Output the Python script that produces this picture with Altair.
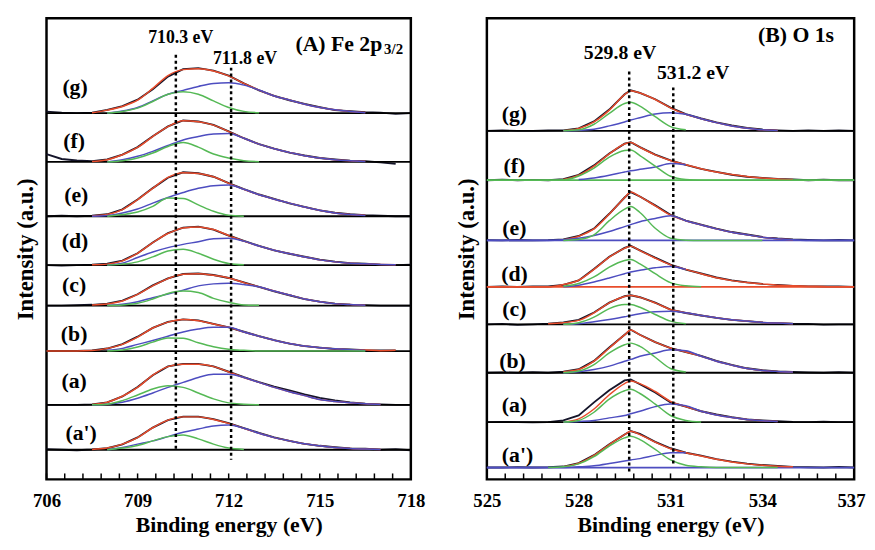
import altair as alt
import pandas as pd

N = None
FONT = "'Liberation Serif', 'Times New Roman', 'DejaVu Serif', serif"
C_DATA = "#15152a"
C_FIT = "#e84c2b"
C_GREEN = "#55b955"
C_BLUE = "#4d4dc0"

SPECTRA = ["(g)", "(f)", "(e)", "(d)", "(c)", "(b)", "(a)", "(a')"]

# ---------------- Panel A : Fe 2p3/2 ----------------
A_E = [706, 706.5, 707, 707.5, 708, 708.5, 709, 709.5, 710, 710.5, 711, 711.5, 712,
       712.5, 713, 713.5, 714, 714.5, 715, 715.5, 716, 716.5, 717, 717.5, 718]
A_OFFSET = [371, 321.5, 266.5, 217, 176, 130, 75.5, 30]

A_FIT = [
    [N, N, N, 0.3, 3, 6.7, 13, 25, 38, 44, 45, 42.7, 37.7, 30, 23.3, 17.3, 13.3, 9, 5.7, 3.3, 1.7, 0.5, N, N, N],
    [N, N, N, 0.5, 2.3, 7.3, 14.7, 25.7, 35.7, 41.7, 40.7, 37.3, 30.7, 24, 18, 13.3, 9.7, 6.3, 4, 2.3, 1.3, 0.7, N, N, N],
    [N, N, N, 0.3, 1.7, 6.7, 16.7, 28.3, 39.3, 44, 43.3, 40, 33.3, 27.3, 21.7, 17.3, 13.3, 9.3, 6, 3.3, 1.7, 1, N, N, N],
    [N, N, N, 0.3, 1, 4.3, 12, 22.7, 32, 37.7, 38.7, 36, 30, 24.3, 19.3, 15, 11.7, 8.3, 5.3, 3.3, 2, 1.3, 0.7, 0.3, N],
    [N, N, N, 0.7, 1.7, 4.7, 11.3, 20, 27.3, 31.7, 32.3, 30.7, 28, 23.3, 19, 14.7, 10.7, 6.7, 4, 2, 1, 0.3, N, N, N],
    [0, 0, 0, 0.5, 2.7, 6.7, 14, 23.3, 29.3, 32, 30.7, 27.3, 24, 19.3, 15, 11, 7.7, 5, 3.3, 2.3, 1.3, 1, 0.3, 0.7, N],
    [N, N, N, 0.3, 2.7, 8.7, 17.7, 30, 38.7, 41, 41, 38.7, 33.3, 27.7, 22.7, 17.7, 13.3, 9.3, 5.3, 3.3, 2, 1, 0.3, N, N],
    [N, N, N, 0.3, 1.7, 5.7, 12.3, 22.3, 30, 33.3, 33.3, 30.7, 26.7, 21.7, 16.7, 12.3, 9, 6, 4, 2.3, 1.3, 0.7, 0.3, N, N],
]
A_GREEN = [
    [N, N, N, N, 0, 1.5, 5, 11.7, 19, 21.5, 19, 12.3, 5.7, 1.7, 0.3, N, N, N, N, N, N, N, N, N, N],
    [N, N, N, N, 0, 1.3, 4, 9, 15.7, 19.7, 15, 8, 4, 1.3, 0.3, N, N, N, N, N, N, N, N, N, N],
    [N, N, N, N, 0, 1.7, 4.3, 10, 18.5, 18, 11.5, 5, 1, 0, N, N, N, N, N, N, N, N, N, N, N],
    [N, N, N, N, 0, 1, 3.3, 8.3, 14.3, 16, 12, 6, 1.7, 0.3, N, N, N, N, N, N, N, N, N, N, N],
    [N, N, N, N, 0, 0.7, 2.3, 6.7, 12.3, 14.7, 13.3, 7.3, 3.3, 0.7, 0.3, N, N, N, N, N, N, N, N, N, N],
    [N, N, N, N, 0, 1, 4, 9, 13.3, 13, 8.3, 4.3, 1.7, 0.7, 0, 0, 0, 0, 0, 0, 0, 0, N, N, N],
    [N, N, N, 0, 0.7, 4.3, 10, 16, 19.3, 17.7, 12, 6, 2, 0.7, 0, N, N, N, N, N, N, N, N, N, N],
    [N, N, N, N, 0, 1.7, 4.3, 9, 13.3, 15, 11, 5.7, 1.7, 0.3, N, N, N, N, N, N, N, N, N, N, N],
]
A_BLUE = [
    [N, N, N, N, 0, 2, 5.7, 12.3, 19, 23, 27, 30, 30.7, 28.3, 23.3, 17.3, 13.3, 9, 5.7, 3.3, 1.7, 0.3, N, N, N],
    [N, N, N, N, 0, 2.3, 5.7, 10.7, 16.7, 22.3, 25.7, 28.3, 28.7, 24, 18, 13.3, 9.7, 6.3, 4, 2.3, 1.3, 0.5, N, N, N],
    [N, N, N, 0, 0.7, 3.3, 7.3, 13.3, 19, 24, 28.3, 31, 31.7, 27.3, 21.7, 17.3, 13.3, 9.3, 6, 3.3, 1.7, 0.7, N, N, N],
    [N, N, N, N, 0, 2, 7.7, 13.3, 17.7, 21, 23.7, 26.7, 27.3, 24.3, 19.3, 15, 11.7, 8.3, 5.3, 3.3, 2, 1.3, 0.7, 0.3, N],
    [N, N, N, N, 0, 1.3, 4, 8, 11.7, 15.7, 20, 22, 22.7, 21.3, 19, 14.7, 10.7, 6.7, 4, 2, 1, 0.3, N, N, N],
    [N, N, N, N, 0.7, 2.7, 6.7, 10.7, 15, 19.3, 22.3, 24, 24, 19.3, 15, 11, 7.7, 5, 3.3, 2.3, 1.3, 0.5, N, N, N],
    [N, N, N, 0, 0.7, 2.7, 6.7, 12, 17.7, 22.7, 27.7, 31, 31, 27.7, 22.7, 17.7, 13.3, 9.3, 5.3, 3.3, 2, 1, 0.3, N, N],
    [N, N, N, N, 0, 2.3, 5.7, 9, 13.3, 17.7, 21, 24, 25, 21.7, 16.7, 12.3, 9, 6, 4, 2.3, 1.3, 0.7, 0.3, N, N],
]
A_DATA = [
    [1.5, 0.5, 0, 0.3, 3.2, 7, 13.5, 24, 37, 44.5, 45.5, 43, 38, 30, 23, 17.5, 13, 9.3, 6, 3, 2, 1, 0.5, -0.8, 0],
    [8, 3, 1.5, 0.8, 2.5, 7.5, 15, 26, 36, 42, 41, 37.5, 31, 24, 18, 13.5, 9.5, 6.5, 4, 2.5, 1.3, 0.7, -0.5, -2, N],
    [0, 0.5, 0, 0.5, 2, 7, 17, 28.5, 39, 44.5, 43.5, 40, 33.5, 27.5, 22, 17.5, 13, 9.5, 6, 3.5, 2, 1, 0.5, 0, 0],
    [0, -0.5, 0, 0.5, 1.5, 4.5, 12, 23, 32.5, 38, 39, 36, 30, 24.5, 19.5, 15, 11.5, 8.5, 5.5, 3.5, 2, 1.5, 0.5, 0, 0.5],
    [0, 0, 0.3, 0.8, 2, 5, 11.5, 20.5, 27.5, 32, 32.5, 31, 28, 23.5, 19, 14.5, 10.5, 6.5, 4, 2, 1, 0.5, 0, 0, 0],
    [0, 0, 0, 0.5, 2.5, 7, 14.5, 23.5, 29.5, 32, 31, 27.5, 24, 19.5, 15, 11, 7.5, 5, 3.5, 2, 1.5, 0.8, 0.5, 0.5, N],
    [0, 0, 0, 0.5, 2.5, 8.5, 18, 30, 39, 41.5, 41.5, 39, 33.5, 28, 23, 18.5, 14.5, 10.5, 7, 4.5, 2.5, 1.2, 0.5, 0, 0],
    [0.5, 0, -0.5, 0.3, 1.5, 5.5, 12.5, 22.5, 30, 33.5, 33.5, 31, 27, 22, 17, 12.5, 9, 6, 4, 2.5, 1.3, 1, 0, 0.5, -0.5],
]
A_RULE_COLORS = ["black"] * 8
A_DOT_E = [710.26, 712.08]
A_DOT_TOP = [430, 417]
A_DOT_BOT = [30, 20]
A_LAB_E = [706.94, 706.91, 706.98, 706.94, 706.91, 706.91, 706.91, 707.14]
A_LAB_I = [397, 343, 288, 241, 197, 147, 100, 47]
A_ANN = [("710.3 eV", 710.42, 447, 18, "center"), ("711.8 eV", 712.54, 426, 18, "center"),
         ("(A) Fe 2p", 717.06, 441, 22, "right"), ("3/2", 717.12, 436, 15, "left")]
A_XLABELS = [706, 709, 712, 715, 718]
A_TICKS = [706, 706.6, 707.2, 707.8, 708.4, 709, 709.6, 710.2, 710.8, 711.4, 712, 712.6, 713.2,
           713.8, 714.4, 715, 715.6, 716.2, 716.8, 717.4, 718]

# ---------------- Panel B : O 1s ----------------
B_E = [525, 525.5, 526, 526.5, 527, 527.5, 528, 528.5, 529, 529.5, 529.7, 530, 530.5, 531, 531.5,
       532, 532.5, 533, 533.5, 534, 534.5, 535, 535.5, 536, 536.5, 537]
B_OFFSET = [353, 303, 242, 195, 157, 108, 58, 12]

B_FIT = [
    [N, N, N, N, N, 0, 2.3, 9, 21, 36.7, 40.7, 38.3, 31.7, 23.3, 16.7, 12.3, 8.3, 5, 2.7, 1, 0.3, N, N, N, N, N],
    [N, N, N, N, N, 0.7, 5, 14.3, 26.7, 36.7, 38.3, 33.3, 25.7, 20, 15.7, 11.7, 8.3, 5.7, 3.7, 2.3, 1.3, 0.7, N, N, N, N],
    [N, N, N, N, N, 0.7, 4.3, 11.7, 26.7, 43.3, 49, 44.3, 35, 25.7, 20, 15.7, 11.7, 8.3, 5.7, 3.3, 1.7, 0.7, N, N, N, N],
    [0, 0, 0, 0, 0, 2.3, 6.7, 17.7, 30, 39, 41, 36.7, 29, 22.3, 17.7, 13.3, 9.3, 6.3, 4.3, 3, 1.7, 1, 0.7, 0.3, 0, 0],
    [N, N, N, N, 0.7, 1.7, 4, 11.7, 21.7, 28.3, 29.3, 27.3, 21.7, 15, 11.7, 9, 6.7, 4.7, 3.3, 2, 1.3, 0.7, N, N, N, N],
    [N, N, N, N, N, 1, 3.3, 11.7, 25, 38.3, 43.3, 38.3, 31, 25, 21, 16.7, 11.7, 7.7, 4.3, 2.3, 1.3, 0.7, N, N, N, N],
    [N, N, N, N, N, 0, 3.3, 13.3, 27.7, 39, 41.7, 39, 31, 21, 15.7, 11, 7.3, 4.7, 2.7, 1.3, 0.7, N, N, N, N, N],
    [N, N, N, N, N, 0.7, 4.3, 12.3, 23.3, 33.3, 36.7, 33.3, 25.7, 19, 15, 11.7, 8.3, 5.7, 3.7, 2.3, 1.3, 0.7, N, N, N, N],
]
B_GREEN = [
    [N, N, N, N, N, 0, 1, 6.7, 17.7, 27.7, 29, 25, 14.3, 4.3, 1, N, N, N, N, N, N, N, N, N, N, N],
    [0, 0, 0, 0, 0, 0.3, 4.3, 12.3, 23.3, 30, 30.7, 25, 14.3, 4, 0.7, 0, 0, 0, 0, 0, 0, 0, 0, 0, 0, 0],
    [N, N, N, N, N, 0, 1, 5.7, 20, 31.7, 34.3, 28.3, 12.3, 2.3, 0.3, 0, 0, 0, 0, 0, N, N, N, N, N, N],
    [N, N, N, N, N, 0.7, 3.3, 10, 20, 26.7, 27.7, 23.3, 13.3, 4.3, 1, 0, N, N, N, N, N, N, N, N, N, N],
    [N, N, N, N, N, 0, 1.7, 7.3, 16, 20, 20, 17.3, 10, 3.3, 0.7, N, N, N, N, N, N, N, N, N, N, N],
    [N, N, N, N, N, 0, 1.7, 8.3, 20, 28.3, 30, 26.7, 15.7, 4.3, 0.7, N, N, N, N, N, N, N, N, N, N, N],
    [N, N, N, N, N, 0, 1.7, 10, 23.3, 31.7, 33.3, 29, 18.3, 6.7, 1.7, 0, N, N, N, N, N, N, N, N, N, N],
    [N, N, N, N, 0, 0.7, 3.7, 11, 21.7, 30, 31.7, 28.3, 18.3, 7.7, 2.3, 0.7, 0, 0, 0, 0, 0, N, N, N, N, N],
]
B_BLUE = [
    [N, N, N, N, N, 0, 0.5, 1.7, 5, 9, 11, 13.3, 17, 18.3, 16.7, 12.3, 8.3, 5, 2.7, 1, 0.3, N, N, N, N, N],
    [N, N, N, N, N, N, 0.7, 2.3, 5, 8.3, 9.5, 11, 13.3, 17, 15.7, N, N, N, N, N, N, N, N, N, N, N],
    [0, 0, 0, 0, 0, 0.7, 2.3, 5, 9, 14, 16, 19, 22.3, 25, 20, 15.7, 11.7, 8.3, 5.7, 3.3, 1.7, 0.7, 0, 0, 0, 0],
    [N, N, N, N, N, 0, 1.7, 5, 9, 13.3, 15, 16.7, 19.3, 20.7, 17.7, N, N, N, N, N, N, N, N, N, N, N],
    [N, N, N, N, N, 0, 0.7, 2.7, 5, 7.7, 9, 10.7, 12.7, 13.3, 11.7, 9, 6.7, 4.7, 3.3, 2, 1.3, 0.7, N, N, N, N],
    [N, N, N, N, N, 0, 1, 3.3, 6.7, 11.7, 13.5, 16.7, 20, 23.3, 22.3, 16.7, 11.7, 7.7, 4.3, 2.3, 1.3, 0.7, N, N, N, N],
    [N, N, N, N, N, 0, 0.7, 1.7, 4.3, 6.7, 8.5, 11, 15.7, 18.3, 16.7, 11, 7.3, 4.7, 2.7, 1.3, 0.7, N, N, N, N, N],
    [0, 0, 0, 0, 0, 0, 0.7, 1.7, 4, 6.7, 7.7, 9, 12.3, 15, 15, N, N, N, N, N, N, N, N, N, N, N],
]
B_DATA = [
    [0, 0.3, 0, 0, 0.3, 0.5, 2.5, 9.5, 21.5, 37, 41, 38.5, 32, 23.5, 17, 12.5, 8.5, 5.5, 3, 1.3, 0.5, 0, 0.5, 0, 0.3, 0],
    [0, 0.5, 0, 0.3, 0, 1, 5.5, 15, 27, 37, 38.5, 33.5, 26, 20, 15.5, 11.5, 8.5, 5.5, 3.5, 2.3, 1.3, 0.7, 0, 0.5, 0, 0],
    [0.3, 0, 0.5, 0, 0.3, 1, 4.5, 12, 27, 43.5, 49, 44.5, 35.5, 26, 20, 16, 12, 8.5, 6, 3.5, 2, 1, 0.5, 0, 0.5, 0],
    [0, 0.3, 0, 0.5, 0.3, 2, 6.5, 18, 30.5, 39.5, 41.5, 37, 29.5, 22.5, 17.5, 13.5, 9.5, 6.5, 4.5, 3, 2, 1, 0.5, 0.3, 0.5, 0],
    [0, 0.5, -0.5, 0, 0.7, 2, 4.5, 12, 22, 28.5, 29.5, 27.5, 22, 15, 11.5, 9, 6.5, 4.5, 3.3, 2, 1.3, 0.7, 0.5, -0.3, 0, 0],
    [0, 0.3, 0, 0.5, 0, 1, 3.5, 12, 25.5, 38.5, 43.5, 38.5, 31, 25, 21, 17, 12, 8, 4.5, 2.5, 1.3, 0.7, 0.3, 0, 0.5, 0],
    [0, 0.3, 0, -0.3, 0, 1.7, 6.7, 20, 32.3, 42.3, 43.3, 38.3, 30, 20, 15.7, 11, 7.7, 5, 2.7, 1.7, 1, 0.3, 0, 0.5, 0, 0],
    [0, 0, 0.3, 0, 0.3, 1, 4.5, 12.5, 23.5, 33.5, 37, 34, 26, 19.5, 15, 12, 8.5, 6, 4, 2.5, 1.5, 0.7, 0.3, 0, 0.5, 0],
]
B_RULE_COLORS = ["black", C_GREEN, C_BLUE, C_FIT, "black", "black", "black", C_BLUE]
B_DOT_E = [529.65, 531.09]
B_DOT_TOP = [413, 397]
B_DOT_BOT = [8, 15]
B_LAB_E = [525.9, 525.9, 525.9, 525.9, 525.9, 525.84, 525.9, 526.0]
B_LAB_I = [370, 317, 255, 208, 172, 120, 75, 25]
B_ANN = [("529.8 eV", 529.35, 432, 20, "center"), ("531.2 eV", 531.74, 412, 20, "center"),
         ("(B) O 1s", 535.1, 450, 22, "center")]
B_XLABELS = [525, 528, 531, 534, 537]
B_TICKS = [525, 525.6, 526.2, 526.8, 527.4, 528, 528.6, 529.2, 529.8, 530.4, 531, 531.6, 532.2,
           532.8, 533.4, 534, 534.6, 535.2, 535.8, 536.4, 537]

H = 467


def panel(E, offsets, fit, green, blue, data, rule_colors, dot_e, dot_top, dot_bot,
          lab_e, lab_i, ann, xdom, xlabels, ticks, width, last_label=None):
    rows = []
    for comp, series in (("data", data), ("fit", fit), ("blue", blue), ("green", green)):
        for k, (off, vals) in enumerate(zip(offsets, series)):
            for e, v in zip(E, vals):
                if v is None:
                    continue
                rows.append({"E": e, "I": off + v, "s": k, "comp": comp})
    lines = pd.DataFrame(rows)

    xs = alt.Scale(domain=xdom, nice=False, zero=False)
    ys = alt.Scale(domain=[0, H], nice=False, zero=False)
    extra = {}
    if last_label is not None:
        test = f"datum.value == {last_label}"
        extra["labelAlign"] = {"condition": {"test": test, "value": "right"}, "value": "center"}
        extra["labelOffset"] = {"condition": {"test": test, "value": 11}, "value": 0}
    xax = alt.Axis(title="Binding energy (eV)", values=xlabels, format="d", grid=False,
                   ticks=False, tickSize=0, domain=False, labelFlush=False, labelFont=FONT,
                   labelFontWeight="bold", labelFontSize=19, labelColor="black", labelPadding=12,
                   titleFont=FONT, titleFontWeight="bold", titleFontSize=22, titleColor="black",
                   titlePadding=5, **extra)
    yax = alt.Axis(title="Intensity (a.u.)", labels=False, ticks=False, tickSize=0, domain=False,
                   grid=False, titleFont=FONT, titleFontWeight="bold", titleFontSize=23,
                   titleColor="black", titlePadding=9)
    X = alt.X("E:Q", scale=xs, axis=xax)
    Y = alt.Y("I:Q", scale=ys, axis=yax)

    base = alt.Chart(lines)
    layers = []
    layers.append(base.mark_line(color=C_DATA, strokeWidth=1.9, interpolate="linear")
                  .encode(X, Y, detail="s:N").transform_filter("datum.comp == 'data'"))
    rules = pd.DataFrame({"I": offsets, "col": rule_colors})
    layers.append(alt.Chart(rules).mark_rule(strokeWidth=1.8)
                  .encode(y=Y, x=alt.value(0), x2=alt.value(width),
                          color=alt.Color("col:N", scale=None)))
    for comp, col in (("fit", C_FIT), ("blue", C_BLUE), ("green", C_GREEN)):
        layers.append(base.mark_line(color=col, strokeWidth=1.5, interpolate="monotone")
                      .encode(X, Y, detail="s:N").transform_filter(f"datum.comp == '{comp}'"))
    dots = pd.DataFrame({"E": dot_e, "I": dot_top, "I2": dot_bot})
    layers.append(alt.Chart(dots).mark_rule(color="black", strokeWidth=2.5, strokeDash=[3, 3])
                  .encode(X, Y, y2="I2:Q"))
    tk = pd.DataFrame({"E": ticks})
    layers.append(alt.Chart(tk).mark_rule(color="black", strokeWidth=1.5)
                  .encode(X, y=alt.value(H), y2=alt.value(H - 6)))
    labs = pd.DataFrame({"E": lab_e, "I": lab_i, "t": SPECTRA})
    layers.append(alt.Chart(labs).mark_text(font=FONT, fontWeight="bold", fontSize=22,
                                            color="black", align="center", baseline="middle")
                  .encode(X, Y, text="t:N"))
    for t, e, i, size, align in ann:
        d = pd.DataFrame({"E": [e], "I": [i], "t": [t]})
        layers.append(alt.Chart(d).mark_text(font=FONT, fontWeight="bold", fontSize=size,
                                             color="black", align=align, baseline="middle")
                      .encode(X, Y, text="t:N"))
    return alt.layer(*layers).properties(width=width, height=H)


left = panel(A_E, A_OFFSET, A_FIT, A_GREEN, A_BLUE, A_DATA, A_RULE_COLORS, A_DOT_E, A_DOT_TOP,
             A_DOT_BOT, A_LAB_E, A_LAB_I, A_ANN, [706, 718], A_XLABELS, A_TICKS, 369)
right = panel(B_E, B_OFFSET, B_FIT, B_GREEN, B_BLUE, B_DATA, B_RULE_COLORS, B_DOT_E, B_DOT_TOP,
              B_DOT_BOT, B_LAB_E, B_LAB_I, B_ANN, [525, 537], B_XLABELS, B_TICKS, 372,
              last_label=537)

chart = (alt.hconcat(left, right, spacing=27)
         .properties(padding={"left": 5, "top": 5, "right": 0, "bottom": 0})
         .configure_view(stroke="black", strokeWidth=2.5))

chart.save("out.html", embed_options={"renderer": "svg", "actions": False})
